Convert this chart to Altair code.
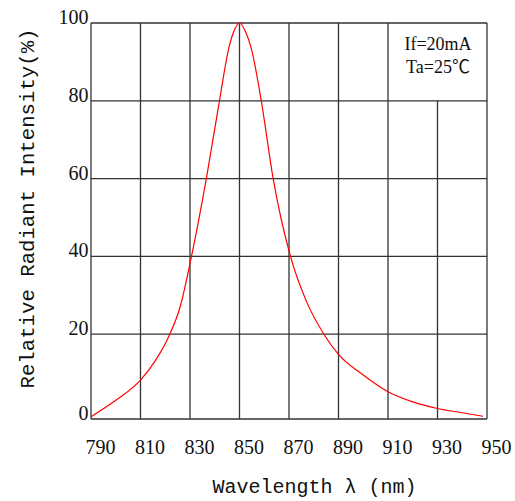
import altair as alt
import pandas as pd

# ---- data ----
wavelength = [790, 800, 810, 816, 821.7, 826, 830.6, 836.6, 841.9, 845.7,
              847.7, 850, 852.4, 854.7, 858.8, 863.6, 870.6, 877, 884.1, 890,
              900, 910, 920, 930, 940, 948.4]
intensity = [-1.2, 3.0, 8.2, 13.2, 19.8, 27.0, 40, 60, 80, 93.6,
             97.8, 100, 97.8, 93.6, 80, 60, 40, 28.5, 20, 14.8,
             9.5, 5.2, 2.6, 0.9, -0.2, -1.1]

x_ticks = [790, 810, 830, 850, 870, 890, 910, 930, 950]
x_grid_top = [100, 100, 100, 100, 100, 100, 100, 80, 100]
y_bottom = -1.8
y_ticks = [y_bottom, 20, 40, 60, 80, 100]
y_labels = ["0", "20", "40", "60", "80", "100"]
note_lines = ["If=20mA", "Ta=25℃"]

W, H = 396, 396
GRID = "#333333"
TXT = "#111111"

curve = pd.DataFrame({"wl": wavelength, "ri": intensity})
vgrid = pd.DataFrame({"wl": x_ticks, "ri": x_grid_top})
hgrid = pd.DataFrame({"ri": y_ticks, "lab": y_labels})

xscale = alt.Scale(domain=[790, 950], nice=False, zero=False)
yscale = alt.Scale(domain=[y_bottom, 100], nice=False, zero=False)

x_axis = alt.Axis(values=x_ticks, grid=False, domain=False, ticks=False,
                  tickSize=0, labelFont="Liberation Serif",
                  labelFontSize=20, labelColor=TXT,
                  labelBaseline="alphabetic", labelPadding=34,
                  labelOffset=9, labelAlign="center", labelFlush=False,
                  labelOverlap=False,
                  title="Wavelength  λ (nm)",
                  titleFont="Liberation Mono", titleFontSize=20,
                  titleFontWeight="normal", titleColor=TXT,
                  titleX=223, titleY=73, titleAlign="center",
                  titleBaseline="alphabetic")
y_axis = alt.Axis(values=y_ticks, grid=False, domain=False, ticks=False,
                  tickSize=0, labels=False,
                  title="Relative Radiant Intensity(%)",
                  titleFont="Liberation Mono", titleFontSize=20.7,
                  titleFontWeight="normal", titleColor=TXT,
                  titleAngle=270, titleX=-64, titleY=185,
                  titleAlign="center", titleBaseline="middle")

X = alt.X("wl:Q", scale=xscale, axis=x_axis, title="Wavelength  λ (nm)")
Y = alt.Y("ri:Q", scale=yscale, axis=y_axis,
          title="Relative Radiant Intensity(%)")

v_rules = alt.Chart(vgrid).mark_rule(color=GRID, strokeWidth=1.3).encode(
    x=X, y=Y, y2=alt.value(H),
)

h_rules = alt.Chart(hgrid).mark_rule(color=GRID, strokeWidth=1.3).encode(
    y=Y, x=alt.value(0), x2=alt.value(W),
)

y_text = alt.Chart(hgrid).mark_text(
    font="Liberation Serif", fontSize=20, color=TXT, align="right",
    baseline="alphabetic", dy=1).encode(
    y=Y, x=alt.value(-2.5), text="lab:N")

line = alt.Chart(curve).mark_line(color="#ff0000", strokeWidth=1.2,
                                  interpolate="monotone").encode(x=X, y=Y)

note1 = alt.Chart(pd.DataFrame({"t": [note_lines[0]]})).mark_text(
    font="Liberation Serif, Noto Sans CJK SC", fontSize=18, color=TXT,
    align="center", baseline="alphabetic").encode(
    x=alt.value(347), y=alt.value(27), text="t:N")
note2 = alt.Chart(pd.DataFrame({"t": [note_lines[1]]})).mark_text(
    font="Liberation Serif, Noto Sans CJK SC", fontSize=18, color=TXT,
    align="center", baseline="alphabetic").encode(
    x=alt.value(347), y=alt.value(50), text="t:N")

chart = alt.layer(h_rules, v_rules, line, y_text, note1, note2).properties(
    width=W, height=H,
    autosize=alt.AutoSizeParams(type="none"),
    padding={"left": 91, "top": 23, "right": 28, "bottom": 82},
    background="white",
).configure_view(stroke=None)

chart.save("out.html", embed_options={"renderer": "svg", "actions": False})
